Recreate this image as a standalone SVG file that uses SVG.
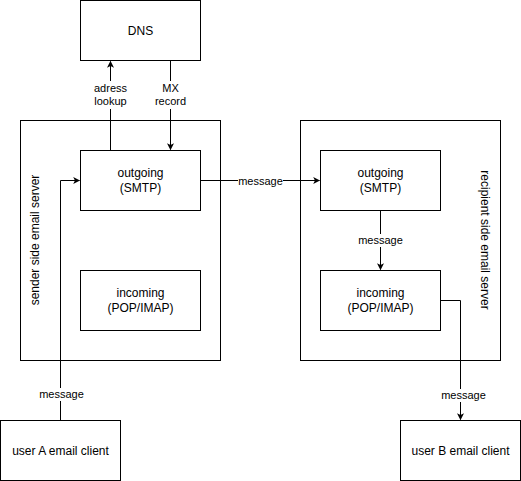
<svg xmlns="http://www.w3.org/2000/svg" width="521" height="481" viewBox="0 0 521 481">
<defs>
<style>
.box{fill:#fff;stroke:#000;stroke-width:1}
.cont{fill:none;stroke:#000;stroke-width:1}
.t{font-family:"Liberation Sans",Arial,sans-serif;font-size:12px;fill:#000;text-anchor:middle}
.l{font-family:"Liberation Sans",Arial,sans-serif;font-size:11px;fill:#000;text-anchor:middle}
.e{fill:none;stroke:#000;stroke-width:1}
.bg{fill:#fff}
</style>
<marker id="arr" viewBox="0 0 10 10" refX="9" refY="5" markerWidth="7" markerHeight="7" orient="auto" markerUnits="userSpaceOnUse">
<path d="M0,0 L10,5 L0,10 L2.5,5 Z" fill="#000"/>
</marker>
</defs>
<rect width="521" height="481" fill="#fff"/>
<g id="sender-server">
<rect class="cont" x="20.5" y="120.5" width="200" height="240"/>
<text class="t" transform="translate(39,240) rotate(-90)">sender side email server</text>
</g>
<g id="recipient-server">
<rect class="cont" x="300.5" y="120.5" width="200" height="240"/>
<text class="t" transform="translate(481,240) rotate(90)">recipient side email server</text>
</g>
<g id="dns">
<rect class="box" x="80.5" y="0.5" width="120" height="60"/>
<text class="t" x="140.5" y="34.5">DNS</text>
</g>
<g id="outgoing-a">
<rect class="box" x="80.5" y="150.5" width="120" height="60"/>
<text class="t" x="140.5" y="177">outgoing</text>
<text class="t" x="140.5" y="192">(SMTP)</text>
</g>
<g id="incoming-a">
<rect class="box" x="80.5" y="270.5" width="120" height="60"/>
<text class="t" x="140.5" y="297">incoming</text>
<text class="t" x="140.5" y="312">(POP/IMAP)</text>
</g>
<g id="outgoing-b">
<rect class="box" x="320.5" y="150.5" width="120" height="60"/>
<text class="t" x="380.5" y="177">outgoing</text>
<text class="t" x="380.5" y="192">(SMTP)</text>
</g>
<g id="incoming-b">
<rect class="box" x="320.5" y="270.5" width="120" height="60"/>
<text class="t" x="380.5" y="297">incoming</text>
<text class="t" x="380.5" y="312">(POP/IMAP)</text>
</g>
<g id="user-a">
<rect class="box" x="0.5" y="420.5" width="120" height="60"/>
<text class="t" x="60.5" y="454.5">user A email client</text>
</g>
<g id="user-b">
<rect class="box" x="400.5" y="420.5" width="120" height="60"/>
<text class="t" x="460.5" y="454.5">user B email client</text>
</g>
<g id="connectors">
<path class="e" d="M110.5,150.5 L110.5,61.5" marker-end="url(#arr)"/>
<rect class="bg" x="90" y="81" width="41" height="28"/>
<text class="l" x="110.5" y="92">adress</text>
<text class="l" x="110.5" y="105">lookup</text>
<path class="e" d="M170.5,60.5 L170.5,149.5" marker-end="url(#arr)"/>
<rect class="bg" x="153" y="81" width="35" height="28"/>
<text class="l" x="170.5" y="92">MX</text>
<text class="l" x="170.5" y="105">record</text>
<path class="e" d="M200.5,180.5 L319.5,180.5" marker-end="url(#arr)"/>
<rect class="bg" x="238" y="174" width="45" height="13"/>
<text class="l" x="260.5" y="184.5">message</text>
<path class="e" d="M380.5,210.5 L380.5,269.5" marker-end="url(#arr)"/>
<rect class="bg" x="358" y="234" width="45" height="13"/>
<text class="l" x="380.5" y="244">message</text>
<path class="e" d="M440.5,300.5 L460.5,300.5 L460.5,419.5" marker-end="url(#arr)"/>
<rect class="bg" x="438" y="389" width="45" height="13"/>
<text class="l" x="463.5" y="399">message</text>
<path class="e" d="M60.5,420.5 L60.5,180.5 L79.5,180.5" marker-end="url(#arr)"/>
<rect class="bg" x="38" y="388" width="45" height="13"/>
<text class="l" x="61.5" y="398">message</text>
</g>
</svg>
